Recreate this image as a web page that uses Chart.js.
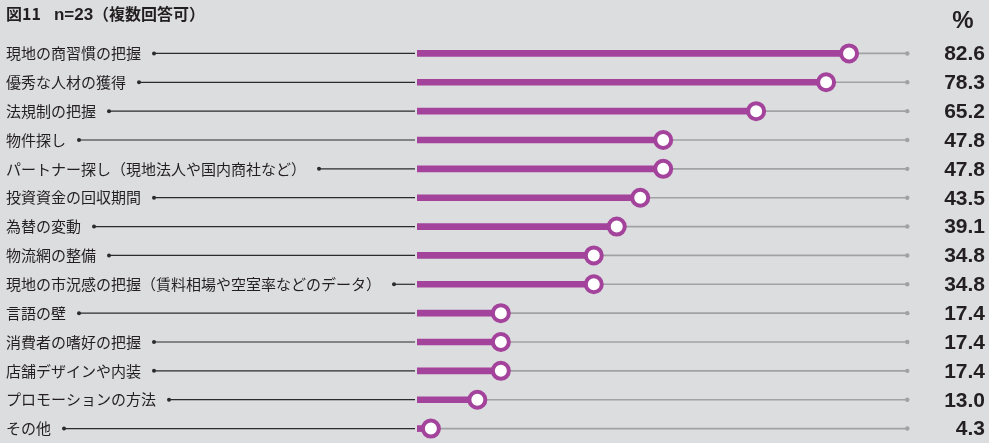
<!DOCTYPE html>
<html lang="ja">
<head>
<meta charset="utf-8">
<script src="https://cdn.jsdelivr.net/npm/chart.js@4"></script>
<style>
  html, body { margin: 0; padding: 0; background: #dcdddf; overflow: hidden; }
  canvas { display: block; }
</style>
</head>
<body>
<canvas id="grafica" width="989" height="443"></canvas>
<script>
// 🔹 DATOS
const tituloFig = "図11";
const tituloN = "n=23";
const tituloNota = "（複数回答可）";
const categorias = [
  "現地の商習慣の把握",
  "優秀な人材の獲得",
  "法規制の把握",
  "物件探し",
  "パートナー探し（現地法人や国内商社など）",
  "投資資金の回収期間",
  "為替の変動",
  "物流網の整備",
  "現地の市況感の把握（賃料相場や空室率などのデータ）",
  "言語の壁",
  "消費者の嗜好の把握",
  "店舗デザインや内装",
  "プロモーションの方法",
  "その他"
];
const valores = [82.6, 78.3, 65.2, 47.8, 47.8, 43.5, 39.1, 34.8, 34.8, 17.4, 17.4, 17.4, 13.0, 4.3];
const finLinea = categorias.map(() => 93.5);

const morado = "#a3439b";
const gris = "#a2a2a4";
const oscuro = "#2b2b2b";
const fuenteJP = "'Noto Sans CJK JP', 'Noto Sans', sans-serif";
const fuenteNum = "'Liberation Sans', Arial, sans-serif";

// 🔹 ETIQUETAS, LÍNEAS Y VALORES
const textos = {
  id: "textos",
  beforeDatasetsDraw(chart) {
    const c = chart.ctx;
    const y = chart.scales.y;
    const izq = chart.chartArea.left;
    c.save();

    // título
    c.fillStyle = "#231f20";
    c.textBaseline = "middle";
    c.textAlign = "left";
    let tx = 6;
    c.font = "bold 16px " + fuenteJP;
    c.fillText(tituloFig, tx, 14);
    tx += c.measureText(tituloFig).width + 13;
    c.font = "bold 17px " + fuenteNum;
    c.fillText(tituloN, tx, 15);
    tx += c.measureText(tituloN).width;
    c.font = "bold 16px " + fuenteJP;
    c.fillText(tituloNota, tx, 14);

    c.font = "bold 24px " + fuenteNum;
    c.textAlign = "center";
    c.fillText("%", 963, 21);

    categorias.forEach((cat, i) => {
      const py = y.getPixelForValue(i);
      c.font = "15px " + fuenteJP;
      c.textAlign = "left";
      c.fillStyle = "#231f20";
      c.fillText(cat, 6, py);
      const ancho = c.measureText(cat).width;
      const px = 6 + ancho + 13;
      c.beginPath();
      c.arc(px, py, 2, 0, Math.PI * 2);
      c.fillStyle = oscuro;
      c.fill();
      c.beginPath();
      c.moveTo(px, py);
      c.lineTo(izq - 2, py);
      c.strokeStyle = oscuro;
      c.lineWidth = 1.2;
      c.stroke();

      c.font = "bold 21px " + fuenteNum;
      c.textAlign = "right";
      c.fillStyle = "#231f20";
      c.fillText(valores[i].toFixed(1), 985, py + 1);
    });
    c.restore();
  }
};

const ctx = document.getElementById("grafica").getContext("2d");

const grafica = new Chart(ctx, {
  type: "bar",
  data: {
    labels: categorias,
    datasets: [
      {
        type: "line",
        data: valores,
        showLine: false,
        pointRadius: 8,
        pointBorderWidth: 4,
        pointBackgroundColor: "#ffffff",
        pointBorderColor: morado,
        clip: false,
        order: 0
      },
      {
        data: valores,
        backgroundColor: morado,
        barThickness: 6,
        grouped: false,
        order: 1
      },
      {
        type: "line",
        data: finLinea,
        showLine: false,
        pointRadius: 2.2,
        pointBackgroundColor: gris,
        pointBorderWidth: 0,
        clip: false,
        order: 3
      },
      {
        data: finLinea,
        backgroundColor: gris,
        barThickness: 1,
        grouped: false,
        order: 2
      }
    ]
  },
  options: {
    indexAxis: "y",
    responsive: false,
    animation: false,
    layout: { autoPadding: false, padding: { left: 417, right: 47, top: 39, bottom: 0 } },
    plugins: { legend: { display: false }, tooltip: { enabled: false } },
    scales: {
      x: { display: false, min: 1.7, max: 100 },
      y: { display: false }
    }
  },
  plugins: [textos]
});
</script>
</body>
</html>
